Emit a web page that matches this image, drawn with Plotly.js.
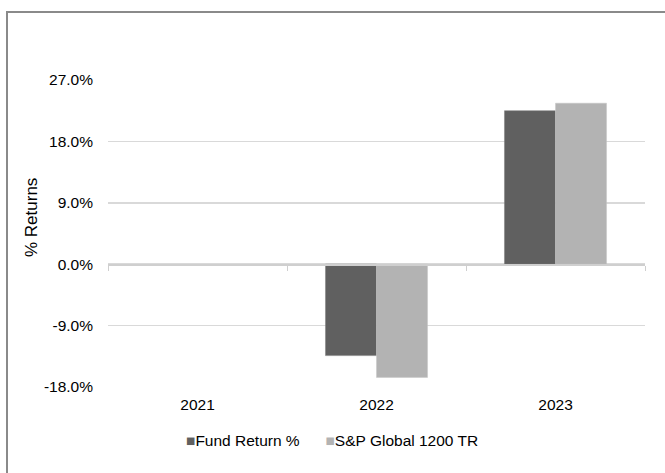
<!DOCTYPE html>
<html>
<head>
<meta charset="utf-8">
<script src="https://cdn.plot.ly/plotly-3.0.1.min.js"></script>
<style>
html,body{margin:0;padding:0;background:#fff;}
#wrap{position:absolute;left:0;top:0;width:665px;height:473px;}
#frame{position:absolute;left:6px;top:11px;width:700px;height:500px;border-left:2px solid #8a8a8a;border-top:2px solid #8a8a8a;pointer-events:none;}
#chart{position:absolute;left:0;top:0;width:665px;height:473px;}
</style>
</head>
<body>
<div id="wrap"><div id="chart"></div><div id="frame"></div></div>
<script>
const years = ["2021", "2022", "2023"];
const fundReturn = [null, -13.4, 22.5];
const spGlobal = [null, -16.6, 23.6];
const seriesNames = ["Fund Return %", "S&P Global 1200 TR"];
const seriesColors = ["#606060", "#b3b3b3"];
const yTicks = [-18, -9, 0, 9, 18, 27];
const yTickText = ["-18.0%", "-9.0%", "0.0%", "9.0%", "18.0%", "27.0%"];
const yTitle = "% Returns";

const font = {family: "Liberation Sans, Arial, sans-serif", size: 15.5, color: "#000"};
const titleFont = {family: "Liberation Sans, Arial, sans-serif", size: 17, color: "#000"};

const traces = [
  {type: "bar", x: years, y: fundReturn, name: seriesNames[0],
   marker: {color: seriesColors[0], line: {color: "#7a7a7a", width: 0.5}}, hoverinfo: "skip"},
  {type: "bar", x: years, y: spGlobal, name: seriesNames[1],
   marker: {color: seriesColors[1], line: {color: "#c4c4c4", width: 0.5}}, hoverinfo: "skip"},
  {type: "scatter", x: years, y: years.map(() => 0), xaxis: "x2", yaxis: "y",
   mode: "markers", marker: {opacity: 0}, showlegend: false, hoverinfo: "skip"}
];

const legendText = seriesNames.map((n, i) =>
  '<span style="color:' + seriesColors[i] + '">■</span>' + n).join("      ");

const layout = {
  width: 665, height: 473,
  margin: {l: 108, r: 20, t: 80, b: 86},
  paper_bgcolor: "#fff", plot_bgcolor: "#fff",
  font: font,
  barmode: "group", bargap: 0.43, bargroupgap: 0,
  showlegend: false,
  annotations: [
    {text: legendText, xref: "paper", yref: "paper",
     x: (332 - 108) / 537, y: -0.175, xanchor: "center", yanchor: "middle",
     showarrow: false, font: font},
    {text: yTitle, xref: "paper", yref: "paper", textangle: -90,
     x: (31 - 108) / 537, y: (387 - 218) / 307, xanchor: "center", yanchor: "middle",
     showarrow: false, font: titleFont}
  ],
  xaxis: {type: "category", showline: false, showgrid: false, zeroline: false,
          ticks: "", tickfont: font, ticklabelstandoff: 6, fixedrange: true},
  xaxis2: {type: "category", overlaying: "x", anchor: "free", position: 0.4,
           showline: true, linecolor: "#cfcfcf", linewidth: 1.5,
           tickson: "boundaries", ticks: "outside", ticklen: 5, tickcolor: "#cfcfcf",
           showticklabels: false, showgrid: false, zeroline: false, matches: "x"},
  yaxis: {range: [-18, 27], tickvals: yTicks, ticktext: yTickText,
          showgrid: true, gridcolor: "#d9d9d9", gridwidth: 1.5,
          zeroline: false, showline: false, ticks: "", ticklabelstandoff: 14,
          tickfont: font, fixedrange: true}
};

Plotly.newPlot("chart", traces, layout, {displayModeBar: false, staticPlot: true});
</script>
</body>
</html>
